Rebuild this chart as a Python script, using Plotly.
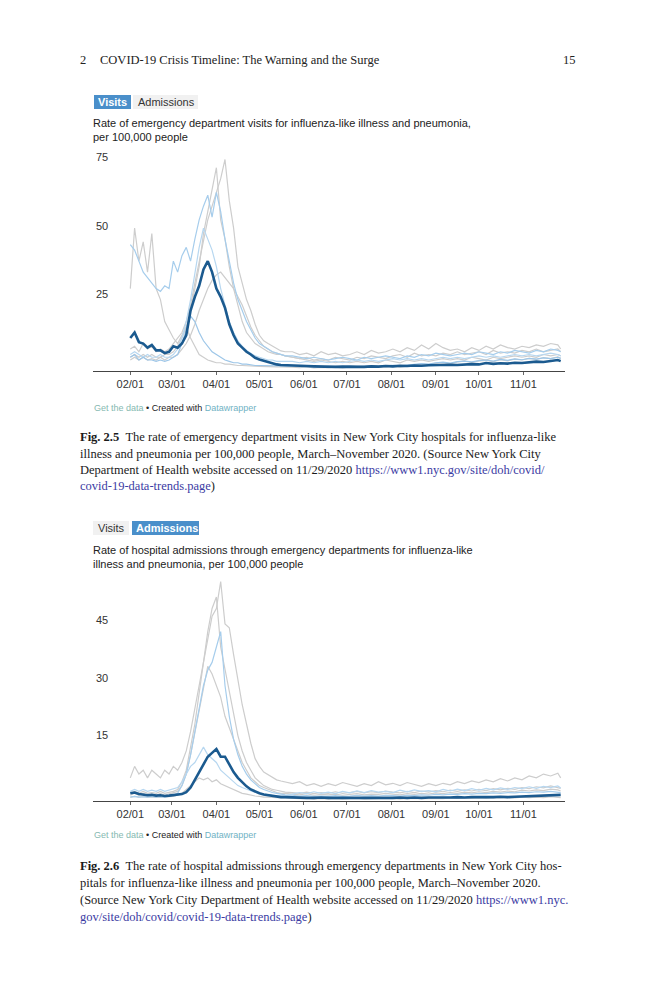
import plotly.graph_objects as go

# ---------------- data ----------------
dates = [
    "2020-02-01", "2020-02-04", "2020-02-07", "2020-02-10", "2020-02-13", "2020-02-16", "2020-02-19",
    "2020-02-22", "2020-02-25", "2020-02-28", "2020-03-02", "2020-03-05", "2020-03-08", "2020-03-11",
    "2020-03-14", "2020-03-17", "2020-03-20", "2020-03-23", "2020-03-26", "2020-03-29", "2020-04-01",
    "2020-04-04", "2020-04-07", "2020-04-10", "2020-04-13", "2020-04-16", "2020-04-19", "2020-04-22",
    "2020-04-25", "2020-04-28", "2020-05-01", "2020-05-04", "2020-05-07", "2020-05-10", "2020-05-13",
    "2020-05-16", "2020-05-19",
    "2020-05-24", "2020-05-29", "2020-06-03", "2020-06-08", "2020-06-13", "2020-06-18", "2020-06-23",
    "2020-06-28", "2020-07-03", "2020-07-08", "2020-07-13", "2020-07-18", "2020-07-23", "2020-07-28",
    "2020-08-02", "2020-08-07", "2020-08-12", "2020-08-17", "2020-08-22", "2020-08-27", "2020-09-01",
    "2020-09-06", "2020-09-11", "2020-09-16", "2020-09-21", "2020-09-26", "2020-10-01", "2020-10-06",
    "2020-10-11", "2020-10-16", "2020-10-21", "2020-10-26", "2020-10-31", "2020-11-05", "2020-11-10",
    "2020-11-15", "2020-11-20", "2020-11-25", "2020-11-27",
]

month_ticks = ["2020-02-01", "2020-03-01", "2020-04-01", "2020-05-01", "2020-06-01",
               "2020-07-01", "2020-08-01", "2020-09-01", "2020-10-01", "2020-11-01"]
month_labels = ["02/01", "03/01", "04/01", "05/01", "06/01", "07/01", "08/01", "09/01", "10/01", "11/01"]

visits_ticks = [25, 50, 75]
admissions_ticks = [15, 30, 45]

# Chart 1: ED visits per 100,000
visits_citywide = [
    12, 14, 10.5, 10, 8.5, 9.5, 7.5, 7.5, 6.5, 7, 9, 8.5, 10, 13, 22, 27, 31, 37, 40, 36,
    30, 27, 23, 17, 13, 10, 8.5, 7, 6, 4.8, 4.2, 3.7, 3.2, 2.8, 2.4, 2.2, 2.1,
    2.0, 1.9, 1.8, 1.7, 1.6, 1.7, 1.5, 1.6, 1.5, 1.6, 1.5, 1.7, 1.6, 1.8, 1.7, 1.9, 1.8, 2.0, 1.9, 2.1,
    2.2, 2.1, 2.3, 2.2, 2.4, 2.5, 2.4, 2.9, 2.6, 2.8, 2.7, 3.0, 2.9, 3.2, 3.4, 3.3, 3.7, 4.0, 3.6,
]
visits_gray1 = [
    30, 52, 40, 47, 36, 50, 30, 26, 18, 15, 12, 10, 13, 16, 12, 9, 6, 5, 4, 3.5,
    3, 3, 2.5, 2.5, 2.2, 2, 2, 2, 1.8, 1.8, 1.7, 1.6, 1.6, 1.5, 1.5, 1.5, 1.5,
    1.4, 1.2, 1.5, 1.1, 1.3, 1.2, 1.4, 1.1, 1.5, 1.3, 1.4, 1.6, 1.3, 1.5, 1.7, 1.4, 1.8, 2.2, 2.6, 2.3,
    2.9, 3.1, 2.6, 3.3, 3.6, 3.1, 3.7, 3.9, 3.4, 4.1, 3.7, 4.3, 4.0, 4.6, 4.2, 4.9, 4.5, 5.1, 4.6,
]
visits_gray2 = [
    8, 9, 7, 10, 8, 9, 7, 8, 7, 8, 10, 12, 14, 18, 24, 32, 40, 48, 55, 60,
    65, 70, 77, 62, 52, 38, 32, 26, 22, 17, 13, 11, 10, 9, 8, 7.3, 7,
    7, 6, 6.5, 5.5, 7, 6, 6.5, 5.5, 6, 7, 6, 7.5, 6.5, 7, 8, 7, 8.5, 7.5, 9.5, 8,
    10, 8.5, 7.5, 8, 7, 8.5, 7.5, 9, 8, 9.5, 8.5, 8, 9, 8.5, 9.5, 9, 10, 9.5, 8,
]
visits_gray3 = [
    5, 6, 5, 6, 5, 6, 5, 5, 6, 6, 7, 9, 12, 16, 22, 30, 38, 50, 58, 65,
    74, 55, 48, 38, 30, 24, 18, 14, 12, 10, 9, 8, 7, 6.5, 6, 6, 5.5,
    5, 4.5, 5, 4, 4.5, 4, 5, 4.5, 4, 5, 4.5, 5.5, 5, 4.5, 5.5, 6, 5, 6.5, 5.5, 6,
    5.5, 6.5, 6, 7, 6, 6.5, 7, 6, 7.5, 6.5, 7, 6.5, 7.5, 7, 8, 7, 7.5, 8, 7,
]
visits_gray4 = [
    4, 5, 4, 5, 4, 4.5, 4, 5, 4, 5, 5, 6, 8, 10, 13, 17, 22, 26, 30, 33,
    35, 36, 34, 32, 30, 27, 24, 20, 16, 13, 11, 9, 8, 7, 6.5, 6, 5.5,
    5, 4.5, 4, 3.5, 4, 3.5, 3, 3.5, 3, 3.5, 3, 3.5, 3, 4, 3.5, 3, 4, 3.5, 4, 3.5,
    4, 4.5, 4, 4.5, 4, 5, 4.5, 4, 5, 4.5, 5, 5.5, 5, 5.5, 5, 6, 5.5, 6, 5.5,
]
visits_blue1 = [
    46, 44, 40, 36, 34, 32, 30, 29, 31, 30, 40, 36, 42, 45, 40, 48, 55, 60, 64, 56,
    65, 58, 48, 40, 32, 26, 22, 18, 15, 12, 10, 9, 8, 7, 6.5, 6, 5.5,
    5.5, 5, 4.5, 5, 4.5, 4, 4.5, 5, 4.5, 4, 5, 4.5, 5, 5.5, 5, 4.5, 5.5, 5, 6, 5.5,
    6.5, 6, 5.5, 6, 6.5, 6, 7, 6.5, 6, 7, 6.5, 7.5, 7, 6.5, 7.5, 7, 8, 7.5, 7,
]
visits_blue2 = [
    6, 7, 6, 5, 6, 5, 5, 6, 5, 5, 6, 8, 12, 18, 26, 35, 45, 52, 48, 44,
    38, 30, 24, 18, 14, 11, 9, 7.5, 6.5, 5.5, 5, 4.5, 4, 4, 3.5, 3.5, 3.5,
    3.5, 3, 3.5, 3, 3.5, 3, 3.5, 3, 3.5, 4, 3.5, 4, 3.5, 4, 4.5, 4, 4.5, 4, 4.5, 4,
    4.5, 5, 4.5, 5, 4.5, 5, 5.5, 5, 5.5, 5, 5.5, 6, 5.5, 6, 5.5, 6, 6.5, 6, 5.5,
]
visits_blue3 = [
    5, 6, 4, 5, 4, 4, 3.5, 4, 3.5, 4, 5, 6, 10, 15, 20, 18, 14, 11, 9, 7,
    6, 5, 4, 3.5, 3, 3, 2.5, 2.5, 2.2, 2, 2, 2, 2, 1.8, 1.8, 1.8, 1.8,
    1.8, 1.6, 1.7, 1.5, 1.6, 1.5, 1.7, 1.5, 1.8, 1.6, 1.7, 1.9, 1.7, 1.9, 2.1, 1.9, 2.2, 2.4, 2.7, 2.5,
    3.0, 3.2, 2.9, 3.4, 3.6, 3.3, 3.8, 4.0, 3.6, 4.2, 3.9, 4.4, 4.1, 4.6, 4.3, 4.8, 4.5, 5.0, 4.6,
]

# Chart 2: hospital admissions per 100,000
adm_citywide = [
    2, 2.2, 1.8, 1.7, 1.5, 1.6, 1.4, 1.5, 1.3, 1.4, 1.5, 1.6, 1.8, 2.3, 3.5, 5.5, 7.5, 9.8, 11.5, 12.5,
    13.5, 11.5, 11.5, 9.5, 7.5, 6, 4.8, 3.8, 3, 2.4, 2, 1.7, 1.5, 1.3, 1.1, 1.0, 1.0,
    0.9, 0.9, 0.8, 0.8, 0.9, 0.8, 0.8, 0.7, 0.8, 0.8, 0.7, 0.8, 0.8, 0.7, 0.8, 0.9, 0.8, 0.9, 0.8, 0.9,
    0.9, 0.8, 0.9, 1.0, 0.9, 1.0, 1.0, 0.9, 1.0, 1.1, 1.0, 1.1, 1.2, 1.3, 1.3, 1.4, 1.6, 1.7, 1.6,
]
adm_gray1 = [
    6, 9, 7, 8, 6, 8, 7, 6, 8, 7, 9, 8, 10, 13, 18, 24, 30, 36, 42, 48,
    50, 57, 46, 45, 38, 31, 25, 20, 15, 11, 9, 7.5, 6.8, 6, 5.5, 5.2, 5,
    4.5, 5, 4, 4.5, 3.8, 4.5, 4, 4.8, 4.2, 3.8, 4.5, 4.0, 5.0, 4.2, 4.6, 4.0, 4.8, 4.2, 3.8, 4.5,
    4.0, 4.6, 4.2, 5.0, 4.5, 5.2, 4.8, 5.5, 5.0, 5.8, 5.2, 6.0, 5.5, 6.5, 6.0, 7.0, 6.5, 7.2, 6.0,
]
adm_gray2 = [
    2, 2.5, 2, 2.5, 2, 2.2, 2, 2.5, 2, 2.2, 2.5, 3, 5, 8, 14, 20, 28, 36, 44, 50,
    53, 40, 34, 28, 22, 17, 13, 10, 8, 6, 5, 4, 3.5, 3, 2.8, 2.5, 2.3,
    2.2, 2, 2.3, 1.9, 2.2, 2, 2.4, 2, 2.2, 2.5, 2.1, 2.4, 2.2, 2.6, 2.3, 2.1, 2.5, 2.2, 2.6, 2.3,
    2.7, 2.4, 2.8, 2.5, 2.9, 2.6, 3.0, 2.7, 3.2, 2.9, 3.3, 3.0, 3.5, 3.2, 3.7, 3.4, 3.9, 3.6, 3.3,
]
adm_gray3 = [
    1.5, 2, 1.5, 2, 1.5, 1.8, 1.5, 2, 1.5, 1.8, 2, 2.5, 4, 7, 12, 18, 24, 30, 35, 33,
    30, 27, 22, 19, 16, 13, 10, 8, 6, 5, 4, 3.5, 3, 2.5, 2.2, 2, 2,
    1.8, 1.6, 1.9, 1.5, 1.7, 1.6, 1.8, 1.5, 1.7, 1.9, 1.6, 1.8, 1.7, 2.0, 1.8, 1.6, 1.9, 1.7, 2.0, 1.8,
    2.1, 1.9, 2.2, 2.0, 2.3, 2.1, 2.4, 2.2, 2.5, 2.3, 2.6, 2.4, 2.8, 2.6, 2.9, 2.7, 3.1, 2.9, 2.6,
]
adm_gray4 = [
    1, 1.2, 1, 1.1, 1, 1, 0.9, 1, 1, 1.1, 1.2, 1.5, 2, 3, 4, 5, 6, 5.5, 6, 5,
    5.5, 4.5, 4, 3.5, 3, 2.5, 2, 1.8, 1.5, 1.3, 1.2, 1, 1, 0.9, 0.9, 0.8, 0.8,
    0.7, 0.6, 0.7, 0.5, 0.6, 0.5, 0.6, 0.5, 0.6, 0.7, 0.5, 0.6, 0.6, 0.7, 0.6, 0.5, 0.7, 0.6, 0.7, 0.6,
    0.7, 0.6, 0.8, 0.7, 0.8, 0.7, 0.8, 0.7, 0.9, 0.8, 0.9, 0.8, 1.0, 0.9, 1.0, 0.9, 1.1, 1.0, 0.9,
]
adm_blue1 = [
    1, 1.2, 1, 1.1, 1, 1.2, 1, 1.1, 1, 1.2, 1.5, 2, 4, 7, 12, 18, 24, 30, 34, 36,
    40, 44, 30, 22, 16, 12, 9, 7, 5.5, 4.5, 3.5, 3, 2.5, 2.2, 2, 1.8, 1.6,
    1.5, 1.3, 1.4, 1.2, 1.3, 1.2, 1.4, 1.2, 1.3, 1.5, 1.3, 1.4, 1.3, 1.5, 1.4, 1.3, 1.5, 1.4, 1.6, 1.5,
    1.7, 1.6, 1.8, 1.7, 1.9, 1.8, 2.0, 1.9, 2.1, 2.0, 2.2, 2.1, 2.3, 2.2, 2.4, 2.3, 2.5, 2.4, 2.2,
]
adm_blue2 = [
    2.5, 3, 2.5, 3, 2.5, 2.8, 2.5, 3, 2.5, 2.8, 3, 3.5, 5, 7, 9, 10, 12, 14, 12, 11,
    10, 8, 7, 6, 5, 4, 3.5, 3, 2.5, 2.2, 2, 1.8, 1.6, 1.5, 1.4, 1.3, 1.3,
    1.8, 2.2, 1.9, 2.4, 2.0, 2.3, 1.9, 2.5, 2.1, 2.6, 2.2, 2.7, 2.3, 2.5, 2.2, 2.8, 2.4, 2.9, 2.5, 2.7,
    2.4, 3.0, 2.6, 3.1, 2.7, 3.2, 2.8, 3.3, 2.9, 3.4, 3.0, 3.5, 3.2, 3.7, 3.3, 3.8, 3.5, 3.9, 3.4,
]

# ---------------- layout helpers ----------------
W, H = 659, 1000
def fx(x):
    return x / W
def fy(y):
    return 1 - y / H

GRAY = "#cdcdcd"
BLUES = ["#a6cdec", "#b7d7f0", "#9dc6e8"]
MAIN = "#1b5a8f"
SANS = "Liberation Sans, Arial, sans-serif"
SERIF = "Liberation Serif, Times New Roman, serif"

fig = go.Figure()

def add(vals, color, width, xa, ya):
    fig.add_trace(go.Scatter(x=dates, y=vals, mode="lines", xaxis=xa, yaxis=ya,
                             line=dict(color=color, width=width),
                             hoverinfo="skip", showlegend=False))

for v in [visits_gray1, visits_gray2, visits_gray3, visits_gray4]:
    add(v, GRAY, 1.2, "x", "y")
for v, c in zip([visits_blue1, visits_blue2, visits_blue3], BLUES):
    add(v, c, 1.2, "x", "y")
add(visits_citywide, MAIN, 2.6, "x", "y")

for v in [adm_gray1, adm_gray2, adm_gray3, adm_gray4]:
    add(v, GRAY, 1.2, "x2", "y2")
for v, c in zip([adm_blue1, adm_blue2], BLUES):
    add(v, c, 1.2, "x2", "y2")
add(adm_citywide, MAIN, 2.6, "x2", "y2")

xdom = [fx(93), fx(565)]
xcommon = dict(domain=xdom, range=["2020-01-06", "2020-11-30"], showgrid=False, zeroline=False,
               showline=True, linecolor="#444", linewidth=1, ticks="outside", ticklen=3,
               tickcolor="#666", tickvals=month_ticks, ticktext=month_labels,
               tickfont=dict(family=SANS, size=11, color="#333"), fixedrange=True)
ycommon = dict(showgrid=False, zeroline=False, showline=False, ticks="",
               ticklabelposition="inside top",
               tickfont=dict(family=SANS, size=11, color="#333"), fixedrange=True)

# y scale: chart 1 -> 2.747 px per unit, zero at y=371 ; chart 2 -> 3.85 px per unit, zero at y=801
Y1_TOP = 84
Y2_TOP = 58
fig.update_layout(
    width=W, height=H, autosize=False,
    margin=dict(l=0, r=0, t=0, b=0),
    paper_bgcolor="white", plot_bgcolor="rgba(0,0,0,0)",
    xaxis=dict(anchor="y", **xcommon),
    yaxis=dict(anchor="x", domain=[fy(371), fy(371 - Y1_TOP * 2.747)], range=[0, Y1_TOP],
               tickvals=visits_ticks, **ycommon),
    xaxis2=dict(anchor="y2", **xcommon),
    yaxis2=dict(anchor="x2", domain=[fy(801), fy(801 - Y2_TOP * 3.85)], range=[0, Y2_TOP],
                tickvals=admissions_ticks, **ycommon),
)

anns = []
def txt(text, x, y, size, family=SANS, color="#222", xanchor="left"):
    anns.append(dict(text=text, x=fx(x), y=fy(y), xref="paper", yref="paper",
                     xanchor=xanchor, yanchor="middle", showarrow=False,
                     font=dict(family=family, size=size, color=color)))

shapes = []
def box(x0, y0, x1, y1, color):
    shapes.append(dict(type="rect", xref="paper", yref="paper", x0=fx(x0), x1=fx(x1),
                       y0=fy(y1), y1=fy(y0), fillcolor=color, line=dict(width=0), layer="below"))

# page header
txt("2", 78, 60, 12.5, SERIF, "#222")
txt("COVID-19 Crisis Timeline: The Warning and the Surge", 98, 60, 12.5, SERIF, "#222")
txt("15", 578, 60, 12.5, SERIF, "#222", xanchor="right")

# chart 1 header
box(94, 95, 131, 109, "#4a8fca")
txt("<b>Visits</b>", 96, 102, 11, SANS, "white")
box(133, 95, 198, 109, "#f1f1f1")
txt("Admissions", 136, 102, 11, SANS, "#333")
txt("Rate of emergency department visits for influenza-like illness and pneumonia,", 91, 123, 11, SANS, "#222")
txt("per 100,000 people", 91, 137, 11, SANS, "#222")
txt("<span style='color:#86b9b1'>Get the data</span> • Created with "
    "<span style='color:#6fb2c4'>Datawrapper</span>", 92, 408, 9, SANS, "#222")

# caption 2.5
LINK = "#3b3ba3"
cap1 = [
    "<b>Fig. 2.5</b>\u2002The rate of emergency department visits in New York City hospitals for influenza-like",
    "illness and pneumonia per 100,000 people, March–November 2020. (Source New York City",
    "Department of Health website accessed on 11/29/2020 "
    f"<span style='color:{LINK}'>https://www1.nyc.gov/site/doh/covid/</span>",
    f"<span style='color:{LINK}'>covid-19-data-trends.page</span>)",
]
for line, y in zip(cap1, [437, 453.5, 470, 486.5]):
    txt(line, 78, y, 12.5, SERIF, "#1a1a1a")

# chart 2 header
box(93, 521, 129, 535, "#f1f1f1")
txt("Visits", 96, 528, 11, SANS, "#333")
box(132, 521, 199, 535, "#4a8fca")
txt("<b>Admissions</b>", 134, 528, 11, SANS, "white")
txt("Rate of hospital admissions through emergency departments for influenza-like", 91, 550, 11, SANS, "#222")
txt("illness and pneumonia, per 100,000 people", 91, 564, 11, SANS, "#222")
txt("<span style='color:#86b9b1'>Get the data</span> • Created with "
    "<span style='color:#6fb2c4'>Datawrapper</span>", 92, 835, 9, SANS, "#222")

cap2 = [
    "<b>Fig. 2.6</b>\u2002The rate of hospital admissions through emergency departments in New York City hos-",
    "pitals for influenza-like illness and pneumonia per 100,000 people, March–November 2020.",
    "(Source New York City Department of Health website accessed on 11/29/2020 "
    f"<span style='color:{LINK}'>https://www1.nyc.</span>",
    f"<span style='color:{LINK}'>gov/site/doh/covid/covid-19-data-trends.page</span>)",
]
for line, y in zip(cap2, [866, 883, 900, 917]):
    txt(line, 78, y, 12.5, SERIF, "#1a1a1a")

fig.update_layout(annotations=anns, shapes=shapes)
fig.write_html(
    "out.html",
    config={"displayModeBar": False},
    post_script="document.body.style.margin='0';document.body.style.padding='0';"
                "document.body.style.overflow='hidden';",
)
